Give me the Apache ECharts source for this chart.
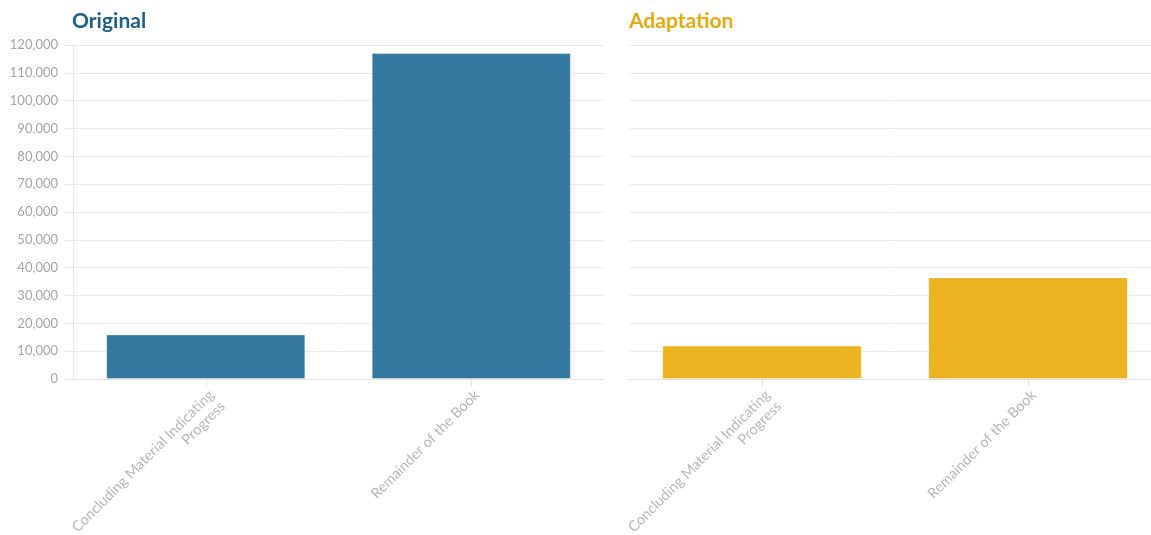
<!DOCTYPE html>
<html>
<head>
<meta charset="utf-8">
<script src="https://cdn.jsdelivr.net/npm/echarts@6/dist/echarts.min.js"></script>
<style>
  html, body { margin: 0; padding: 0; background: #fff; }
  #chart { width: 1151px; height: 535px; }
</style>
</head>
<body>
<div id="chart"></div>
<script>
// word counts per section
const categories = ['Concluding Material Indicating\nProgress', 'Remainder of the Book']
const originalValues = [16000, 117100]
const adaptationValues = [12000, 36500]
const panelTitles = ['Original', 'Adaptation']

const FONT = 'Lato, "Open Sans", sans-serif'
const gridColor = '#ebebeb'
const labelColor = '#a6a6a6'

const chart = echarts.init(document.getElementById('chart'))

function xAxisFor(idx) {
  return {
    type: 'category',
    gridIndex: idx,
    data: categories,
    axisLine: {lineStyle: {color: '#e3e3e3'}},
    axisTick: {show: true, alignWithLabel: true, length: 8, lineStyle: {color: '#e3e3e3'}},
    axisLabel: {
      rotate: 45,
      interval: 0,
      color: '#b8b8b8',
      fontFamily: FONT,
      fontSize: 14.5,
      lineHeight: 16,
      margin: 8,
      align: 'right',
      verticalAlign: 'top'
    }
  }
}

function yAxisFor(idx, showLabels) {
  return {
    type: 'value',
    gridIndex: idx,
    min: 0,
    max: 120000,
    interval: 10000,
    axisLine: {show: showLabels, lineStyle: {color: '#e8e8e8'}},
    axisTick: {show: showLabels, length: 8, lineStyle: {color: '#e8e8e8'}},
    splitLine: {lineStyle: {color: gridColor, width: 1}},
    axisLabel: {
      show: showLabels,
      color: labelColor,
      fontFamily: FONT,
      fontSize: 13,
      margin: 15,
      formatter: v => v.toLocaleString('en-US')
    }
  }
}

chart.setOption({
  animation: false,
  title: [
    {text: panelTitles[0], left: 67, top: 6,
     textStyle: {color: '#1d5f8a', fontFamily: FONT, fontWeight: 'bold', fontSize: 21}},
    {text: panelTitles[1], left: 624, top: 6,
     textStyle: {color: '#e8a90e', fontFamily: FONT, fontWeight: 'bold', fontSize: 21}}
  ],
  grid: [
    {left: 73, width: 531, top: 45, height: 334, outerBoundsMode: 'none'},
    {left: 629, width: 532, top: 45, height: 334, outerBoundsMode: 'none'}
  ],
  xAxis: [xAxisFor(0), xAxisFor(1)],
  yAxis: [yAxisFor(0, true), yAxisFor(1, false)],
  series: [
    {
      type: 'bar',
      xAxisIndex: 0, yAxisIndex: 0,
      data: originalValues,
      barWidth: '75%',
      itemStyle: {color: '#34779f', borderColor: 'rgba(255,255,255,0.35)', borderWidth: 1}
    },
    {
      type: 'bar',
      xAxisIndex: 1, yAxisIndex: 1,
      data: adaptationValues,
      barWidth: '75%',
      itemStyle: {color: '#ecb321', borderColor: 'rgba(255,255,255,0.35)', borderWidth: 1}
    }
  ]
})
</script>
</body>
</html>
